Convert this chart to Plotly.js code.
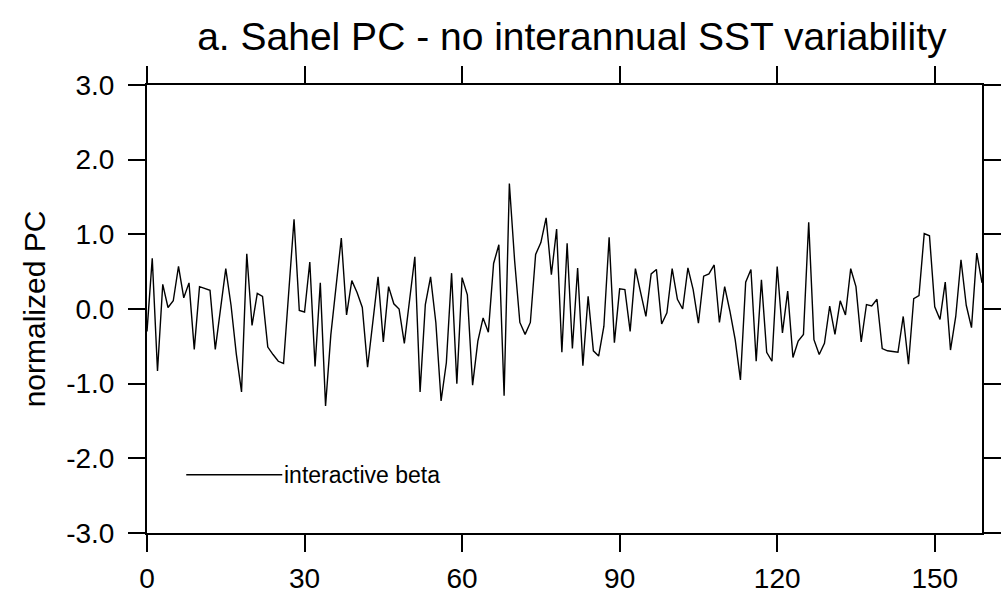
<!DOCTYPE html>
<html>
<head>
<meta charset="utf-8">
<script src="https://cdn.plot.ly/plotly-3.0.1.min.js"></script>
<style>html,body{margin:0;padding:0;background:#fff;}#chart{width:1005px;height:601px;}</style>
</head>
<body>
<div id="chart"></div>
<script>
// Sahel PC time series (index 0..159)
const pcValues = [
 -0.30, 0.68,-0.83, 0.33, 0.02, 0.11, 0.57, 0.15, 0.35,-0.54,
  0.30, 0.28, 0.25,-0.54, 0.00, 0.54, 0.05,-0.60,-1.11, 0.74,
 -0.22, 0.21, 0.17,-0.51,-0.61,-0.70,-0.73, 0.20, 1.20,-0.02,
 -0.04, 0.63,-0.77, 0.35,-1.30,-0.35, 0.30, 0.95,-0.08, 0.38,
  0.22, 0.02,-0.78,-0.20, 0.43,-0.44, 0.30, 0.07, 0.00,-0.46,
  0.10, 0.70,-1.11, 0.06, 0.43,-0.18,-1.23,-0.72, 0.48,-1.00,
  0.42, 0.19,-1.02,-0.43,-0.12,-0.31, 0.61, 0.86,-1.16, 1.68,
  0.65,-0.18,-0.34,-0.18, 0.73, 0.89, 1.22, 0.46, 1.07,-0.58,
  0.88,-0.53, 0.55,-0.76, 0.17,-0.56,-0.63,-0.23, 0.96,-0.45,
  0.27, 0.26,-0.30, 0.54, 0.22,-0.10, 0.47, 0.53,-0.20,-0.05,
  0.54, 0.13, 0.00, 0.55, 0.26,-0.19, 0.44, 0.47, 0.59,-0.18,
  0.30,-0.03,-0.41,-0.95, 0.36, 0.53,-0.70, 0.39,-0.58,-0.70,
  0.57,-0.32, 0.24,-0.65,-0.43,-0.34, 1.16,-0.41,-0.61,-0.46,
  0.04,-0.34, 0.11,-0.08, 0.54, 0.30,-0.44, 0.06, 0.04, 0.13,
 -0.53,-0.56,-0.57,-0.58,-0.10,-0.74, 0.14, 0.18, 1.01, 0.98,
  0.03,-0.14, 0.36,-0.55,-0.10, 0.66, 0.05,-0.25, 0.75, 0.35
];
const timeIndex = pcValues.map((v, i) => i);
const xTickVals = [0, 30, 60, 90, 120, 150];
const yTickVals = [-3, -2, -1, 0, 1, 2, 3];
const yTickText = ["-3.0", "-2.0", "-1.0", "0.0", "1.0", "2.0", "3.0"];
const seriesName = "interactive beta";

const FONT = "Liberation Sans, Arial, Helvetica, sans-serif";

const trace = {
  x: timeIndex, y: pcValues, type: "scatter", mode: "lines",
  line: {color: "#000", width: 1.4}, name: seriesName, showlegend: false,
  hoverinfo: "skip"
};

const axisCommon = {
  showline: true, linecolor: "#000", linewidth: 2, mirror: "ticks",
  ticks: "outside", ticklen: 17, tickwidth: 2, tickcolor: "#000",
  showgrid: false, zeroline: false,
  tickfont: {family: FONT, size: 28, color: "#000"}
};

const layout = {
  width: 1005, height: 601,
  paper_bgcolor: "#fff", plot_bgcolor: "#fff",
  margin: {l: 147, r: 23, t: 85, b: 68},
  title: {text: "a. Sahel PC - no interannual SST variability",
          font: {family: FONT, size: 39, color: "#000"},
          x: 0.569, xanchor: "center", y: 0.94, yanchor: "middle", yref: "container"},
  xaxis: Object.assign({}, axisCommon, {range: [0, 159], tickvals: xTickVals, ticklabelstandoff: 2}),
  yaxis: Object.assign({}, axisCommon, {range: [-3, 3], tickvals: yTickVals, ticktext: yTickText, ticklabelstandoff: 8,
          title: {text: "normalized PC", font: {family: FONT, size: 30, color: "#000"}, standoff: 12}}),
  shapes: [{type: "line", xref: "paper", yref: "paper", x0: 0.047, x1: 0.162, y0: 0.13, y1: 0.13,
            line: {color: "#000", width: 1.4}}],
  annotations: [{xref: "paper", yref: "paper", x: 0.162, y: 0.13, xanchor: "left", yanchor: "middle",
            text: seriesName, showarrow: false, font: {family: FONT, size: 23, color: "#000"}}]
};

Plotly.newPlot("chart", [trace], layout, {displayModeBar: false, staticPlot: true});
</script>
</body>
</html>
